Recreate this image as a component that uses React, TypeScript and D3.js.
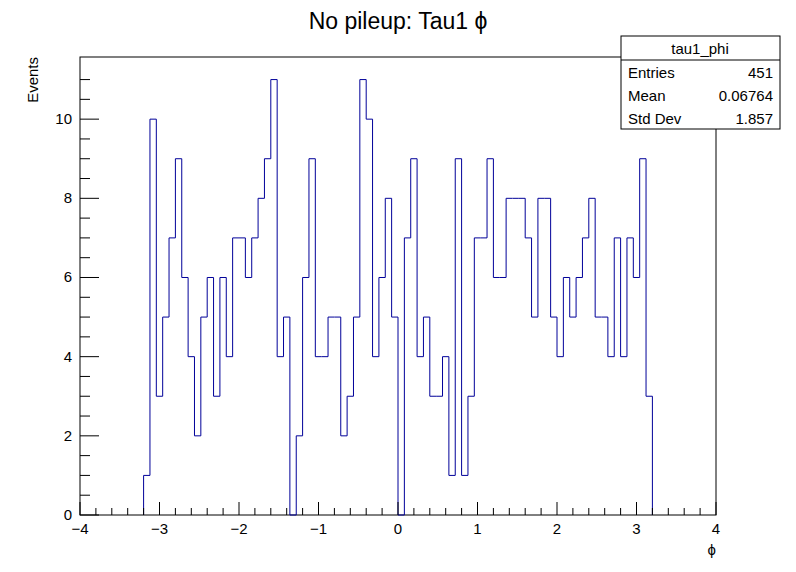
import * as d3 from 'd3'

const xMin = -3.2
const binWidth = 0.08
const counts = [
  1, 10, 3, 5, 7, 9, 6, 4, 2, 5, 6, 3, 6, 4, 7, 7, 6, 7, 8, 9, 11, 4, 5, 0, 2, 6, 9, 4, 4,
  5, 5, 2, 3, 5, 11, 10, 4, 6, 8, 5, 0, 7, 9, 4, 5, 3, 3, 4, 1, 9, 1, 3, 7, 7, 9, 6,
  6, 8, 8, 8, 7, 5, 8, 8, 5, 4, 6, 5, 6, 7, 8, 5, 5, 4, 7, 4, 7, 6, 9, 3,
]
const xTicks = [-4, -3, -2, -1, 0, 1, 2, 3, 4]
const yTicks = [0, 2, 4, 6, 8, 10]
const stats = [
  ['Entries', '451'],
  ['Mean', '0.06764'],
  ['Std Dev', '1.857'],
]

const W = 796
const H = 572
const m = { left: 80, right: 80, top: 57, bottom: 57 }
const font = 'Liberation Sans, Arial, sans-serif'

export default function App() {
  const x = d3.scaleLinear().domain([-4, 4]).range([m.left, W - m.right])
  const y = d3.scaleLinear().domain([0, 11.57]).range([H - m.bottom, m.top])
  const y0 = y(0)

  let path = `M${x(xMin)},${y0}`
  counts.forEach((c, i) => {
    const a = x(xMin + i * binWidth)
    const b = x(xMin + (i + 1) * binWidth)
    path += `L${a},${y(c)}L${b},${y(c)}`
  })
  path += `L${x(xMin + counts.length * binWidth)},${y0}`

  const xMinor = d3.range(-4, 4.001, 0.2)
  const yMinor = d3.range(0, 11.5, 0.5)

  return (
    <svg width={W} height={H} style={{ position: 'absolute', left: 0, top: 0, fontFamily: font }}>
      <rect width={W} height={H} fill="#fff" />
      <text x={W / 2} y={29} textAnchor="middle" fontSize={23}>
        No pileup:  Tau1 ϕ
      </text>
      <rect x={m.left} y={m.top} width={W - m.left - m.right} height={H - m.top - m.bottom} fill="none" stroke="#000" />
      <path d={path} fill="none" stroke="#000099" strokeWidth={1} />
      {xMinor.map((t, i) => {
        const major = Math.abs(t - Math.round(t)) < 1e-6
        return <line key={i} x1={x(t)} x2={x(t)} y1={y0} y2={y0 - (major ? 13 : 7)} stroke="#000" />
      })}
      {yMinor.map((t, i) => {
        const major = Math.abs(t / 2 - Math.round(t / 2)) < 1e-6
        return <line key={i} x1={m.left} x2={m.left + (major ? 19 : 10)} y1={y(t)} y2={y(t)} stroke="#000" />
      })}
      {xTicks.map((t) => (
        <text key={t} x={x(t)} y={y0 + 19} textAnchor="middle" fontSize={15}>
          {t === 0 ? '0' : t < 0 ? `−${-t}` : t}
        </text>
      ))}
      {yTicks.map((t) => (
        <text key={t} x={m.left - 8} y={y(t) + 5} textAnchor="end" fontSize={15}>
          {t}
        </text>
      ))}
      <text transform={`translate(38,${m.top}) rotate(-90)`} textAnchor="end" fontSize={15}>
        Events
      </text>
      <text x={W - m.right} y={y0 + 40} textAnchor="end" fontSize={15}>
        ϕ
      </text>
      <rect x={621} y={36} width={159} height={93} fill="#fff" stroke="#000" />
      <line x1={621} x2={780} y1={60} y2={60} stroke="#000" />
      <text x={700} y={54} textAnchor="middle" fontSize={15}>
        tau1_phi
      </text>
      {stats.map(([k, v], i) => (
        <g key={k}>
          <text x={628} y={78 + i * 23} fontSize={15}>
            {k}
          </text>
          <text x={773} y={78 + i * 23} textAnchor="end" fontSize={15}>
            {v}
          </text>
        </g>
      ))}
    </svg>
  )
}
